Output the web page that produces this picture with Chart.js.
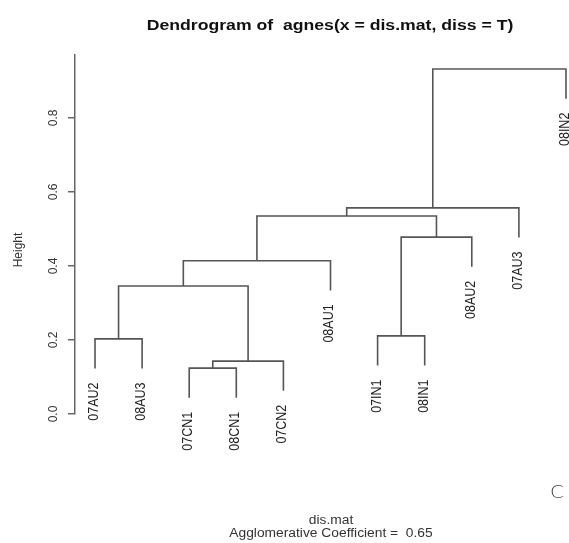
<!DOCTYPE html>
<html>
<head>
<meta charset="utf-8">
<script src="https://cdn.jsdelivr.net/npm/chart.js@4/dist/chart.umd.min.js"></script>
<style>
  html, body { margin: 0; padding: 0; background: #fff; }
  #wrap { width: 569px; height: 543px; }
</style>
</head>
<body>
<div id="wrap"><canvas id="c" width="569" height="543"></canvas></div>
<script>
// leaves in plotting order
const leafLabels = ['07AU2', '08AU3', '07CN1', '08CN1', '07CN2', '08AU1', '07IN1', '08IN1', '08AU2', '07AU3', '08IN2'];
// merges like R hclust: negative = leaf (1-based order index), positive = earlier merge
const mergeLeft = [-3, 1, -1, -7, 3, 5, 4, 6, 8, 9];
const mergeRight = [-4, -5, -2, -8, 2, -6, -9, 7, -10, -11];
const mergeHeight = [0.124, 0.143, 0.203, 0.211, 0.346, 0.414, 0.478, 0.535, 0.557, 0.932];
const hang = 0.08;
const yTicks = [0, 0.2, 0.4, 0.6, 0.8];

const lineColor = '#555555';

// build the segments (x = leaf position, y = height), with NaN gaps between pieces
const nodeX = [], nodeY = [];
const segs = [];
for (let i = 0; i < mergeHeight.length; i++) {
    const h = mergeHeight[i];
    const ends = [mergeLeft[i], mergeRight[i]].map(function (k) {
        if (k < 0) return { x: -k, y: h - hang };   // leaf hanging line
        return { x: nodeX[k - 1], y: nodeY[k - 1] };
    });
    nodeX[i] = (ends[0].x + ends[1].x) / 2;
    nodeY[i] = h;
    segs.push({ x: ends[0].x, y: ends[0].y }, { x: ends[0].x, y: h }, { x: ends[1].x, y: h }, { x: ends[1].x, y: ends[1].y }, { x: NaN, y: NaN });
}

// leaf ends for label placement
const leafEnd = [];
for (let i = 0; i < mergeHeight.length; i++) {
    [mergeLeft[i], mergeRight[i]].forEach(function (k) {
        if (k < 0) leafEnd[-k - 1] = mergeHeight[i] - hang;
    });
}

// horizontal text, a bit wider like the (stretched) original
function wideText(ctx, txt, x, y, sx) {
    ctx.save();
    ctx.translate(x, y);
    ctx.scale(sx, 1);
    ctx.fillText(txt, 0, 0);
    ctx.restore();
}

const textPlugin = {
    id: 'rtext',
    afterDraw(chart) {
        const ctx = chart.ctx;
        const xs = chart.scales.x, ys = chart.scales.y;
        ctx.save();
        ctx.fillStyle = '#111';
        ctx.textAlign = 'center';
        ctx.textBaseline = 'middle';
        // title
        ctx.font = 'bold 14px "Liberation Sans", Arial, sans-serif';
        wideText(ctx, 'Dendrogram of  agnes(x = dis.mat, diss = T)', 330, 26, 1.26);
        // sub labels
        ctx.font = '12px "Liberation Sans", Arial, sans-serif';
        ctx.fillStyle = '#333';
        wideText(ctx, 'dis.mat', 331, 521, 1.15);
        wideText(ctx, 'Agglomerative Coefficient =  0.65', 331, 534, 1.15);
        // corner letter
        ctx.font = '300 18px "DejaVu Sans", sans-serif';
        ctx.fillStyle = '#444';
        wideText(ctx, 'C', 557, 493, 1.1);
        ctx.fillStyle = '#333';
        // y title
        ctx.font = '12px "Liberation Sans", Arial, sans-serif';
        ctx.save();
        ctx.translate(19, 250);
        ctx.rotate(-Math.PI / 2);
        ctx.fillText('Height', 0, 0);
        ctx.restore();
        // y tick labels
        yTicks.forEach(function (t) {
            ctx.save();
            ctx.translate(54, ys.getPixelForValue(t));
            ctx.rotate(-Math.PI / 2);
            ctx.fillText(t.toFixed(1), 0, 0);
            ctx.restore();
        });
        // leaf labels, rotated, ending just below each leaf line
        ctx.font = '12.5px "Liberation Sans", Arial, sans-serif';
        ctx.fillStyle = '#222';
        leafLabels.forEach(function (lab, i) {
            const px = xs.getPixelForValue(i + 1) - 1;
            const py = ys.getPixelForValue(leafEnd[i]) + 14;
            ctx.save();
            ctx.translate(px, py);
            ctx.rotate(-Math.PI / 2);
            ctx.textAlign = 'right';
            ctx.textBaseline = 'middle';
            ctx.scale(1, 1.15);
            ctx.fillText(lab, 0, 0);
            ctx.restore();
        });
        ctx.restore();
    }
};

new Chart(document.getElementById('c'), {
    type: 'scatter',
    data: {
        datasets: [{
            data: segs,
            showLine: true,
            spanGaps: false,
            borderColor: lineColor,
            borderWidth: 1.6,
            pointRadius: 0,
            tension: 0,
        }]
    },
    options: {
        responsive: false,
        animation: false,
        layout: { padding: { top: 55, bottom: 129, left: 0, right: 0 } },
        plugins: {
            legend: { display: false },
            tooltip: { enabled: false },
            title: { display: false },
        },
        scales: {
            x: {
                type: 'linear',
                min: 0.575,
                max: 11.064,
                display: false,
            },
            y: {
                type: 'linear',
                min: 0,
                max: 0.97,
                afterFit(scale) { scale.width = 75; },
                afterBuildTicks(scale) {
                    scale.ticks = yTicks.map(function (v) { return { value: v }; });
                },
                ticks: { display: false },
                grid: {
                    display: true,
                    drawOnChartArea: false,
                    drawTicks: true,
                    tickLength: 7,
                    color: '#666',
                    lineWidth: 1.5,
                },
                border: { display: true, color: '#666', width: 1.5 },
            }
        }
    },
    plugins: [textPlugin]
});
</script>
</body>
</html>
